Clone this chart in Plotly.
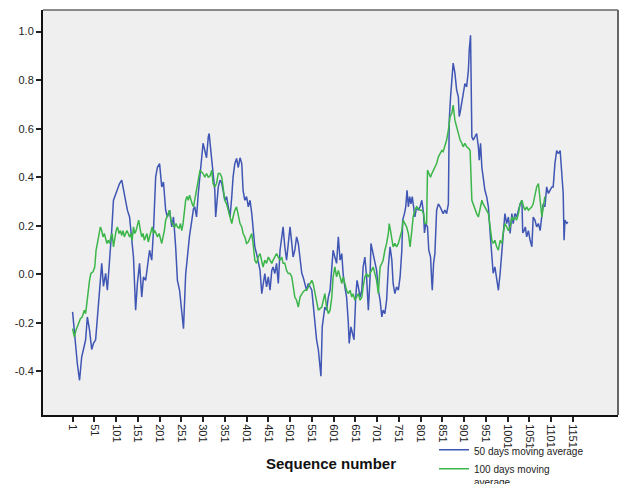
import plotly.graph_objects as go

# 50-day moving average: sequence numbers and values
seq_50 = [
    1, 6, 12, 17, 22, 26, 31, 35, 40, 45, 49, 54, 58, 63, 68, 72, 77, 81, 86, 91,
    95, 100, 104, 109, 114, 118, 123, 127, 132, 137, 141, 146, 150, 155, 160, 164,
    169, 173, 178, 183, 187, 192, 196, 201, 206, 210, 215, 219, 224, 229, 233, 238,
    242, 247, 252, 256, 261, 265, 270, 275, 279,
    282, 286, 290, 294, 298, 301, 305, 309, 313, 315, 318, 321, 324, 328, 330, 332,
    336, 340, 344, 347, 351, 355, 359, 363, 367, 370, 374, 378, 382, 386, 390, 393,
    397, 401, 405, 409, 413, 416, 420, 424, 428, 432, 436, 439, 443, 447, 451, 455,
    459, 462, 466, 470, 474, 478, 482, 485, 489, 493, 497, 501, 505, 508, 512, 516,
    520, 524, 528, 531, 535, 539, 543, 547, 551, 554, 558,
    562, 566, 570, 572, 575, 578, 581, 585, 589, 593, 597, 600, 604, 608, 612, 616,
    620, 623, 627, 631, 635, 637, 641, 644, 648, 652, 655, 658, 662, 666, 669, 673,
    677, 681, 685, 687, 690, 693, 696, 700, 704, 708, 712, 715, 719, 723, 727, 731,
    735, 738, 742, 746, 750, 754, 758, 760, 764, 767, 770, 773, 776, 779, 782, 785,
    788, 792, 796, 800, 804, 808, 810, 813, 817, 820, 824, 827, 828, 831, 834, 838,
    842, 846, 850, 853, 857,
    861, 865, 867, 870, 873, 876, 880, 884, 888, 890, 893, 896, 899, 903, 907, 911,
    913, 916, 919, 922, 926, 930, 934, 936, 939, 942, 945, 949, 953, 957, 961, 965,
    968, 972, 976, 980, 984, 988, 991, 995, 999, 1003, 1007, 1011, 1014, 1018, 1022,
    1026, 1030, 1034, 1036, 1039, 1042, 1045, 1049, 1053, 1057, 1060, 1064, 1068,
    1072, 1076, 1080, 1083, 1087, 1091, 1095, 1099, 1103, 1106, 1110, 1114, 1118,
    1122, 1126, 1129, 1131, 1133, 1137, 1140,
]
ma_50 = [
    -0.155, -0.27, -0.37, -0.437, -0.34, -0.31, -0.27, -0.176, -0.23, -0.31, -0.285,
    -0.27, -0.176, -0.052, 0.045, -0.05, 0.004, -0.066, 0.045, 0.18, 0.305, 0.333,
    0.346, 0.374, 0.388, 0.346, 0.305, 0.264, 0.236, 0.154, 0.071, -0.148, -0.038,
    0.045, -0.094, -0.011, -0.025, 0.03, 0.099, 0.058, 0.18, 0.40, 0.44, 0.456, 0.36,
    0.38, 0.264, 0.236, 0.264, 0.195, 0.236, 0.113, -0.025, -0.066, -0.16, -0.224,
    0.0, 0.08, 0.16, 0.22, 0.27,
    0.278, 0.236, 0.333, 0.40, 0.484, 0.54, 0.51, 0.48, 0.566, 0.58, 0.525, 0.47,
    0.40, 0.346, 0.236, 0.29, 0.36, 0.388, 0.374, 0.346, 0.305, 0.32, 0.278, 0.236,
    0.32, 0.40, 0.456, 0.477, 0.44, 0.48, 0.456, 0.346, 0.305, 0.32, 0.278, 0.305,
    0.25, 0.18, 0.113, 0.085, 0.045, 0.016, -0.08, -0.038, 0.003, -0.052, -0.011,
    -0.066, 0.016, 0.03, 0.003, 0.045, -0.038, 0.099, 0.154, 0.195, 0.113, 0.058,
    0.127, 0.195, 0.127, 0.071, 0.099, 0.154, 0.127, 0.058, 0.004, -0.011, -0.038,
    -0.066, -0.038, -0.052, -0.066, -0.12, -0.20,
    -0.27, -0.31, -0.41, -0.42, -0.217, -0.176, -0.135, -0.148, -0.094, -0.066,
    0.058, 0.099, 0.071, 0.045, 0.154, 0.058, 0.085, 0.003, -0.052, -0.094, -0.20,
    -0.285, -0.217, -0.245, -0.27, -0.094, -0.025, -0.052, -0.094, -0.066, 0.03,
    0.071, -0.011, -0.148, -0.011, 0.127, 0.099, 0.071, 0.058, 0.016, -0.066, -0.107,
    -0.176, -0.148, -0.162, -0.107, 0.03, 0.113, 0.058, -0.038, -0.08, -0.052,
    -0.066, -0.011, 0.099, 0.223, 0.25, 0.278, 0.346, 0.278, 0.32, 0.29, 0.32,
    0.278, 0.236, 0.278, 0.264, 0.278, 0.305, 0.25, 0.17, 0.209, 0.195, 0.099,
    0.071, -0.038, -0.066, 0.045, 0.085, 0.264, 0.29, 0.278, 0.264, 0.25, 0.264,
    0.25, 0.29, 0.635, 0.73, 0.80, 0.87, 0.83, 0.76, 0.73, 0.65, 0.676, 0.704,
    0.745, 0.786, 0.772, 0.84, 0.924, 0.985, 0.566, 0.553, 0.566, 0.58, 0.525, 0.47,
    0.54, 0.44, 0.40, 0.346, 0.32, 0.278, 0.17, 0.085, 0.004, 0.03, -0.011, -0.066,
    0.004, 0.099, 0.14, 0.25, 0.209, 0.236, 0.168, 0.25, 0.209, 0.25, 0.236, 0.264,
    0.29, 0.305, 0.17, 0.18, 0.195, 0.154, 0.18, 0.14, 0.113, 0.236, 0.223, 0.195,
    0.209, 0.18, 0.236, 0.29, 0.278, 0.36, 0.333, 0.346, 0.36, 0.36, 0.456, 0.51,
    0.497, 0.51, 0.415, 0.333, 0.14, 0.223, 0.21, 0.215,
]

# 100-day moving average: sequence numbers and values
seq_100 = [
    1, 5, 9, 14, 19, 23, 28, 31, 34, 37, 40, 43, 48, 52, 55, 58, 61, 65, 68, 71,
    74, 77, 80, 83, 86, 89, 92, 95, 98, 101, 104, 108, 111, 114, 117, 120, 123, 126,
    129, 132, 135, 138, 141, 144, 147, 150, 153, 157, 160, 163, 166, 169, 172, 175,
    178, 181, 184, 187, 190, 193, 196, 200, 203, 206, 209, 212, 215, 218, 221, 224,
    227, 230, 233, 236, 239, 242, 246, 249, 252, 255, 258, 261, 264, 267, 270, 273,
    276, 279,
    282, 286, 290, 294, 298, 301, 305, 309, 313, 317, 321, 324, 328, 332, 336, 340,
    344, 347, 351, 355, 359, 363, 367, 370, 374, 378, 382, 386, 390, 393, 397, 401,
    405, 409, 413, 416, 420, 424, 428, 432, 436, 439, 443, 447, 451, 455, 459, 462,
    466, 470, 474, 478, 482, 485, 489, 493, 497, 501, 505, 508, 512, 516, 520, 524,
    528, 531, 535, 539, 543, 547, 551, 554, 558, 562, 566,
    574, 577, 581, 585, 589, 593, 597, 600, 604, 608, 612, 616, 620, 623, 627, 631,
    635, 639, 643, 646, 650, 654, 658, 662, 666, 669, 673, 677, 681, 685, 689, 692,
    696, 700, 704, 708, 712, 715, 719, 723, 727, 729, 732, 735, 738, 742, 746, 750,
    754, 758, 761, 765, 769, 773, 777, 781, 784, 788, 792, 796, 800, 804, 808, 811,
    815, 817, 820, 824, 827, 831, 834, 838, 842, 846, 850, 853, 857,
    861, 865, 869, 873, 876, 880, 884, 888, 892, 896, 899, 903, 907, 911, 915, 919,
    922, 926, 930, 934, 938, 942, 945, 949, 953, 957, 961, 965, 968, 972, 976, 980,
    984, 988, 991, 995, 999, 1003, 1007, 1011, 1014, 1018, 1022, 1026, 1030, 1034,
    1038, 1041, 1045, 1049, 1053, 1057, 1060, 1064, 1068, 1072, 1076, 1080, 1083,
    1087,
]
ma_100 = [
    -0.224, -0.258, -0.23, -0.203, -0.183, -0.176, -0.148, -0.162, -0.107, -0.052,
    -0.025, 0.003, 0.01, 0.03, 0.099, 0.127, 0.154, 0.195, 0.18, 0.154, 0.168, 0.14,
    0.127, 0.14, 0.127, 0.154, 0.168, 0.113, 0.154, 0.18, 0.195, 0.168, 0.18, 0.16,
    0.18, 0.154, 0.168, 0.18, 0.168, 0.154, 0.168, 0.14, 0.195, 0.168, 0.18, 0.209,
    0.223, 0.18, 0.154, 0.168, 0.14, 0.154, 0.168, 0.133, 0.154, 0.18, 0.195, 0.168,
    0.18, 0.168, 0.154, 0.168, 0.14, 0.127, 0.154, 0.18, 0.223, 0.236, 0.25, 0.264,
    0.223, 0.209, 0.2, 0.195, 0.209, 0.195, 0.19, 0.209, 0.18, 0.209, 0.264, 0.305,
    0.32, 0.305, 0.326, 0.305, 0.29, 0.278,
    0.305, 0.346, 0.388, 0.429, 0.42, 0.415, 0.40, 0.415, 0.40, 0.405, 0.429, 0.374,
    0.36, 0.374, 0.415, 0.415, 0.40, 0.36, 0.305, 0.29, 0.264, 0.236, 0.209, 0.236,
    0.264, 0.278, 0.236, 0.209, 0.195, 0.168, 0.154, 0.127, 0.133, 0.154, 0.168,
    0.127, 0.058, 0.045, 0.071, 0.085, 0.045, 0.03, 0.058, 0.045, 0.071, 0.058,
    0.045, 0.058, 0.071, 0.085, 0.071, 0.058, 0.071, 0.045, 0.045, 0.016, 0.003,
    0.003, -0.011, -0.052, -0.094, -0.107, -0.135, -0.094, -0.08, -0.073, -0.066,
    -0.066, -0.052, -0.038, -0.025, -0.038, -0.08, -0.12, -0.148,
    -0.135, -0.107, -0.08, -0.135, -0.162, -0.148, -0.094, -0.011, 0.03, -0.011,
    0.016, -0.011, -0.038, -0.011, -0.038, -0.066, -0.08, -0.066, -0.094, -0.08,
    -0.107, -0.094, -0.08, -0.107, -0.094, -0.052, -0.011, 0.003, -0.011, 0.003,
    0.016, 0.03, 0.003, -0.025, -0.08, 0.03, 0.045, 0.058, 0.099, 0.127, 0.168,
    0.209, 0.18, 0.14, 0.113, 0.127, 0.113, 0.127, 0.154, 0.18, 0.223, 0.209, 0.195,
    0.168, 0.113, 0.18, 0.236, 0.264, 0.278, 0.271, 0.264, 0.264, 0.25, 0.209,
    0.209, 0.429, 0.415, 0.40, 0.415, 0.429, 0.44, 0.456, 0.484, 0.497, 0.51, 0.505,
    0.525,
    0.553, 0.594, 0.65, 0.663, 0.697, 0.635, 0.607, 0.58, 0.553, 0.54, 0.525, 0.54,
    0.525, 0.52, 0.51, 0.305, 0.29, 0.264, 0.25, 0.236, 0.278, 0.305, 0.29, 0.278,
    0.264, 0.25, 0.195, 0.14, 0.127, 0.14, 0.113, 0.099, 0.14, 0.127, 0.168, 0.209,
    0.195, 0.18, 0.195, 0.236, 0.223, 0.236, 0.223, 0.25, 0.29, 0.305, 0.278, 0.264,
    0.278, 0.264, 0.271, 0.278, 0.29, 0.32, 0.36, 0.374, 0.305, 0.236, 0.278, 0.32,
]

x_ticks = list(range(1, 1152, 50))
y_ticks = [-0.4, -0.2, 0.0, 0.2, 0.4, 0.6, 0.8, 1.0]
y_tick_text = [f"{v:.1f}" for v in y_ticks]

fig = go.Figure()
fig.add_trace(go.Scatter(
    x=seq_50, y=ma_50, mode="lines", name="50 days moving average",
    line=dict(color="#3f56b4", width=1.5),
))
fig.add_trace(go.Scatter(
    x=seq_100, y=ma_100, mode="lines", name="100 days moving<br>average",
    line=dict(color="#3cb64a", width=1.5),
))

fig.update_layout(
    width=633, height=484,
    margin=dict(l=43, r=15, t=10, b=69, autoexpand=False),
    paper_bgcolor="white",
    plot_bgcolor="#efefef",
    font=dict(family="Liberation Sans, Arial, sans-serif", size=11, color="#222222"),
    showlegend=True,
    legend=dict(
        x=0.68, y=-0.054, xanchor="left", yanchor="top", valign="top",
        bgcolor="rgba(0,0,0,0)", font=dict(size=10, color="#222222"),
        tracegroupgap=0, itemwidth=30,
    ),
    xaxis=dict(
        range=[-67, 1255], tickmode="array", tickvals=x_ticks,
        ticktext=[str(v) for v in x_ticks], tickangle=90,
        ticks="outside", ticklen=5, tickwidth=1.5, tickcolor="#222222",
        showgrid=False, zeroline=False, automargin=False,
        showline=True, linecolor="#111111", linewidth=2,
        tickfont=dict(size=11),
    ),
    yaxis=dict(
        range=[-0.58, 1.089], tickmode="array", tickvals=y_ticks, ticktext=y_tick_text,
        ticks="outside", ticklen=5, tickwidth=1.5, tickcolor="#222222",
        showgrid=False, zeroline=False, automargin=False,
        showline=True, linecolor="#111111", linewidth=2,
        tickfont=dict(size=11),
    ),
    annotations=[
        dict(text="<b>Sequence number</b>", xref="paper", yref="paper",
             x=0.5, y=-0.119, xanchor="center", yanchor="middle", showarrow=False,
             font=dict(size=15, color="#111111")),
    ],
    shapes=[
        dict(type="line", xref="paper", yref="paper", x0=0, x1=1, y0=1, y1=1,
             line=dict(color="#666666", width=1.5)),
        dict(type="line", xref="paper", yref="paper", x0=1, x1=1, y0=0, y1=1,
             line=dict(color="#666666", width=2)),
    ],
)

fig.write_html("out.html")
